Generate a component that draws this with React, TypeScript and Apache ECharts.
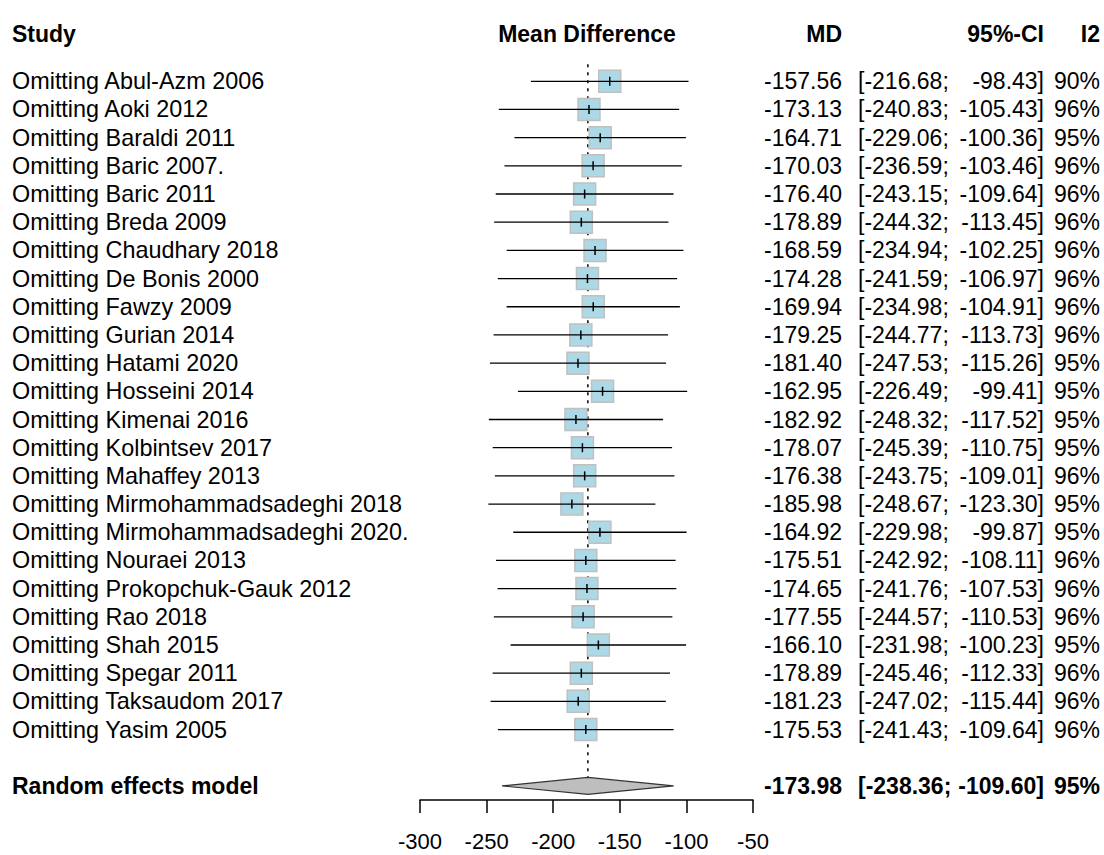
import React, { useEffect, useRef } from "react";
import * as echarts from "echarts";

const studies = [
  "Omitting Abul-Azm 2006",
  "Omitting Aoki 2012",
  "Omitting Baraldi 2011",
  "Omitting Baric 2007.",
  "Omitting Baric 2011",
  "Omitting Breda 2009",
  "Omitting Chaudhary 2018",
  "Omitting De Bonis 2000",
  "Omitting Fawzy 2009",
  "Omitting Gurian 2014",
  "Omitting Hatami 2020",
  "Omitting Hosseini 2014",
  "Omitting Kimenai 2016",
  "Omitting Kolbintsev 2017",
  "Omitting Mahaffey 2013",
  "Omitting Mirmohammadsadeghi 2018",
  "Omitting Mirmohammadsadeghi 2020.",
  "Omitting Nouraei 2013",
  "Omitting Prokopchuk-Gauk 2012",
  "Omitting Rao 2018",
  "Omitting Shah 2015",
  "Omitting Spegar 2011",
  "Omitting Taksaudom 2017",
  "Omitting Yasim 2005",
];
const md = [
  -157.56, -173.13, -164.71, -170.03, -176.4, -178.89, -168.59, -174.28,
  -169.94, -179.25, -181.4, -162.95, -182.92, -178.07, -176.38, -185.98,
  -164.92, -175.51, -174.65, -177.55, -166.1, -178.89, -181.23, -175.53,
];
const ciLower = [
  -216.68, -240.83, -229.06, -236.59, -243.15, -244.32, -234.94, -241.59,
  -234.98, -244.77, -247.53, -226.49, -248.32, -245.39, -243.75, -248.67,
  -229.98, -242.92, -241.76, -244.57, -231.98, -245.46, -247.02, -241.43,
];
const ciUpper = [
  -98.43, -105.43, -100.36, -103.46, -109.64, -113.45, -102.25, -106.97,
  -104.91, -113.73, -115.26, -99.41, -117.52, -110.75, -109.01, -123.3,
  -99.87, -108.11, -107.53, -110.53, -100.23, -112.33, -115.44, -109.64,
];
const i2 = [
  90, 96, 95, 96, 96, 96, 96, 96, 96, 96, 95, 95, 95, 95, 96, 95, 95, 96, 96,
  96, 95, 96, 96, 96,
];
const summaryLabel = "Random effects model";
const summaryMd = -173.98;
const summaryLower = -238.36;
const summaryUpper = -109.6;
const summaryI2 = 95;
const xMin = -300;
const xMax = -50;
const xInterval = 50;
const headers = ["Study", "Mean Difference", "MD", "95%-CI", "I2"];

const FONT = '"Liberation Sans", Arial, Helvetica, sans-serif';
const FS = 23;
const FS_NAME = 23.4;

export default function App() {
  const ref = useRef<HTMLDivElement>(null);
  useEffect(() => {
    document.body.style.margin = "0";
    const chart = echarts.init(ref.current!, null, { renderer: "svg" });
    const summaryIdx = studies.length + 1;

    const txt = (
      text: string,
      x: number,
      y: number,
      align: string,
      bold: boolean,
      size: number = FS
    ) => ({
      type: "text",
      x,
      y,
      silent: true,
      style: {
        text,
        font: `${bold ? "bold " : ""}${size}px ${FONT}`,
        fill: "#000",
        align,
        verticalAlign: "middle",
        textAlign: align,
        textVerticalAlign: "middle",
      },
    });

    const rowData = studies.map((s, i) => [md[i], ciLower[i], ciUpper[i], i]);
    const labelRows: any[] = studies.map((s, i) => ({
      value: [xMin, i],
      name: s,
      md: md[i].toFixed(2),
      lo: "[" + ciLower[i].toFixed(2) + ";",
      hi: ciUpper[i].toFixed(2) + "]",
      i2: i2[i] + "%",
      bold: false,
    }));
    labelRows.push({
      value: [xMin, summaryIdx],
      name: summaryLabel,
      md: summaryMd.toFixed(2),
      lo: "[" + summaryLower.toFixed(2) + ";",
      hi: summaryUpper.toFixed(2) + "]",
      i2: summaryI2 + "%",
      bold: true,
    });

    const option: any = {
      animation: false,
      backgroundColor: "#fff",
      grid: { left: 420, right: 351, top: 39, bottom: 55 },
      xAxis: {
        type: "value",
        min: xMin,
        max: xMax,
        interval: xInterval,
        splitLine: { show: false },
        axisLine: { onZero: false, lineStyle: { color: "#000", width: 1.5 } },
        axisTick: { length: 13, lineStyle: { color: "#000", width: 1.5 } },
        axisLabel: {
          color: "#000",
          fontSize: 22,
          fontFamily: FONT,
          margin: 30,
        },
      },
      yAxis: {
        type: "value",
        inverse: true,
        min: -1.5,
        max: 25.5,
        show: false,
      },
      graphic: [
        txt(headers[0], 12, 34, "left", true),
        txt(headers[1], 587, 34, "center", true),
        txt(headers[2], 842, 34, "right", true),
        txt(headers[3], 1044, 34, "right", true),
        txt(headers[4], 1100, 34, "right", true),
      ],
      series: [
        {
          type: "custom",
          name: "ref",
          z: 1,
          data: [[summaryMd, summaryIdx]],
          clip: false,
          renderItem: (params: any, api: any) => {
            const x = api.value(0);
            const p1 = api.coord([x, -0.6]);
            const p2 = api.coord([x, api.value(1) - 0.3]);
            return {
              type: "line",
              shape: { x1: p1[0], y1: p1[1], x2: p2[0], y2: p2[1] },
              style: { stroke: "#000", lineWidth: 1.5, lineDash: [3, 5] },
            };
          },
        },
        {
          type: "custom",
          name: "studies",
          z: 2,
          clip: false,
          data: rowData,
          encode: { x: [0, 1, 2], y: 3 },
          renderItem: (params: any, api: any) => {
            const idx = api.value(3);
            const pM = api.coord([api.value(0), idx]);
            const pL = api.coord([api.value(1), idx]);
            const pH = api.coord([api.value(2), idx]);
            const h = 11;
            return {
              type: "group",
              children: [
                {
                  type: "rect",
                  shape: { x: pM[0] - h, y: pM[1] - h, width: 2 * h, height: 2 * h },
                  style: { fill: "#ADD8E6", stroke: "#C0C0C0", lineWidth: 1.5 },
                },
                {
                  type: "line",
                  shape: { x1: pL[0], y1: pM[1], x2: pH[0], y2: pM[1] },
                  style: { stroke: "#000", lineWidth: 1.3 },
                },
                {
                  type: "line",
                  shape: { x1: pM[0], y1: pM[1] - 4.5, x2: pM[0], y2: pM[1] + 4.5 },
                  style: { stroke: "#000", lineWidth: 1.5 },
                },
              ],
            };
          },
        },
        {
          type: "custom",
          name: "summary",
          z: 2,
          clip: false,
          data: [[summaryMd, summaryLower, summaryUpper, summaryIdx]],
          encode: { x: [0, 1, 2], y: 3 },
          renderItem: (params: any, api: any) => {
            const idx = api.value(3);
            const m = api.value(0);
            const pts = [
              api.coord([api.value(1), idx]),
              api.coord([m, idx - 0.3]),
              api.coord([api.value(2), idx]),
              api.coord([m, idx + 0.3]),
            ];
            return {
              type: "polygon",
              shape: { points: pts },
              style: { fill: "#BEBEBE", stroke: "#333", lineWidth: 1.2 },
            };
          },
        },
        {
          type: "custom",
          name: "labels",
          z: 3,
          clip: false,
          silent: true,
          data: labelRows,
          renderItem: (params: any, api: any) => {
            const d = labelRows[params.dataIndex];
            const y = api.coord([xMin, api.value(1)])[1];
            return {
              type: "group",
              children: [
                txt(d.name, 12, y, "left", d.bold, d.bold ? FS : FS_NAME),
                txt(d.md, 842, y, "right", d.bold),
                txt(d.lo, 858, y, "left", d.bold),
                txt(d.hi, 1044, y, "right", d.bold),
                txt(d.i2, 1100, y, "right", d.bold),
              ],
            };
          },
        },
      ],
    };
    chart.setOption(option);
    return () => chart.dispose();
  }, []);
  return <div ref={ref} style={{ width: 1104, height: 855 }} />;
}
